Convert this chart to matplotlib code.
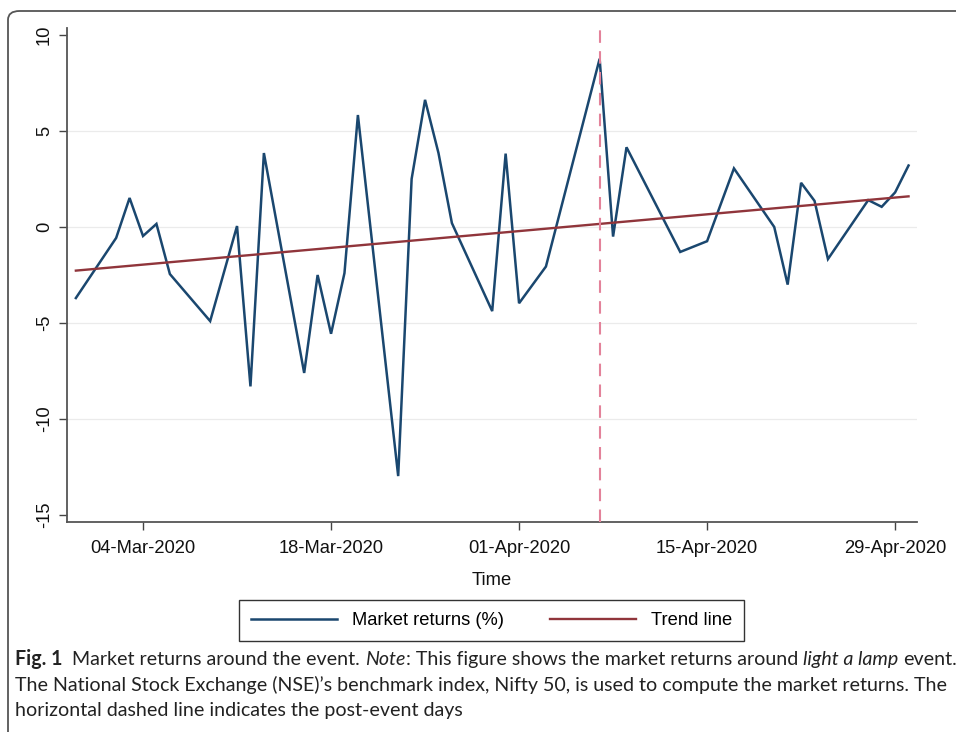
import matplotlib
matplotlib.use("Agg")
from matplotlib import pyplot as plt
from matplotlib import font_manager
from matplotlib.patches import FancyBboxPatch
from matplotlib.lines import Line2D
import matplotlib.dates as mdates
import numpy as np
import pandas as pd

# daily Nifty 50 returns (%)
dates = ["2020-02-28", "2020-03-02", "2020-03-03", "2020-03-04", "2020-03-05", "2020-03-06",
         "2020-03-09", "2020-03-11", "2020-03-12", "2020-03-13", "2020-03-16", "2020-03-17",
         "2020-03-18", "2020-03-19", "2020-03-20", "2020-03-23", "2020-03-24", "2020-03-25",
         "2020-03-26", "2020-03-27", "2020-03-30", "2020-03-31", "2020-04-01", "2020-04-03",
         "2020-04-07", "2020-04-08", "2020-04-09", "2020-04-13", "2020-04-15", "2020-04-17",
         "2020-04-20", "2020-04-21", "2020-04-22", "2020-04-23", "2020-04-24", "2020-04-27",
         "2020-04-28", "2020-04-29", "2020-04-30"]
returns = [-3.7, -0.57, 1.51, -0.47, 0.16, -2.45,
           -4.9, 0.05, -8.3, 3.85, -7.6, -2.5,
           -5.56, -2.4, 5.83, -12.97, 2.5, 6.62,
           3.85, 0.2, -4.38, 3.82, -3.97, -2.06,
           8.76, -0.5, 4.15, -1.3, -0.74, 3.05,
           0.0, -3.0, 2.3, 1.36, -1.67, 1.4,
           1.05, 1.8, 3.2]
event_date = "2020-04-07"
xtick_dates = ["2020-03-04", "2020-03-18", "2020-04-01", "2020-04-15", "2020-04-29"]
yticks = [-15, -10, -5, 0, 5, 10]

BLUE = "#1a476f"
RED = "#90353b"
PINK = "#e3829a"
FS = 13.2

installed = {f.name for f in font_manager.fontManager.ttflist}
capfont = "Liberation Sans Narrow" if "Liberation Sans Narrow" in installed else "Lato"
plt.rcParams["font.family"] = ["Liberation Sans", "DejaVu Sans"]

W, H = 956, 732
fig = plt.figure(figsize=(W / 100, H / 100), dpi=100)
ax = fig.add_axes([67 / W, 1 - 522 / H, (917 - 67) / W, (522 - 28) / H])

t = pd.to_datetime(dates)
ax.plot(t, returns, color=BLUE, lw=1.8, zorder=2, solid_joinstyle="miter")

# linear trend (OLS on date)
xn = mdates.date2num(t)
b, a = np.polyfit(xn, returns, 1)
ax.plot(t, a + b * xn, color=RED, lw=1.7, zorder=3)

ax.axvline(pd.Timestamp(event_date), color=PINK, lw=1.5, dashes=(6, 4), zorder=4)

x0 = pd.Timestamp("2020-03-04")
ax.set_xlim(x0 - pd.Timedelta(days=5.66), x0 + pd.Timedelta(days=57.63))
ax.set_ylim(-15.36, 10.36)

ax.set_yticks(yticks)
ax.set_yticklabels([str(v) for v in yticks], rotation=90, va="center")
ax.set_xticks(pd.to_datetime(xtick_dates))
ax.xaxis.set_major_formatter(mdates.DateFormatter("%d-%b-%Y"))
ax.tick_params(axis="both", direction="out", length=6, width=1, color="#444444",
               labelsize=FS, labelcolor="#111111")
ax.tick_params(axis="y", pad=4)
ax.tick_params(axis="x", pad=7)
ax.set_xlabel("Time", fontsize=FS, labelpad=10.5, color="#111111")

ax.grid(axis="y", color="#ebebeb", lw=0.9, zorder=0)
for tk in ax.yaxis.get_major_ticks():
    if tk.get_loc() in (10, -15):
        tk.gridline.set_visible(False)

for s in ("top", "right"):
    ax.spines[s].set_visible(False)
for s in ("left", "bottom"):
    ax.spines[s].set_color("#555555")
    ax.spines[s].set_linewidth(1.3)

handles = [Line2D([], [], color=BLUE, lw=1.8), Line2D([], [], color=RED, lw=1.7)]
leg = fig.legend(handles, ["Market returns (%)", "Trend line"], loc="center",
                 bbox_to_anchor=(491.5 / W, 1 - 620.5 / H), ncol=2, fontsize=FS,
                 frameon=True, fancybox=False, edgecolor="black", handlelength=4.7,
                 handletextpad=0.8, columnspacing=2.5, borderpad=0.65)
leg.get_frame().set_linewidth(1.0)

# page frame with rounded top-left corner
frame = FancyBboxPatch((8 / W, -0.1), 1.2, 1.1 - 11 / H,
                       boxstyle="round,pad=0,rounding_size=0.012",
                       transform=fig.transFigure, fill=False, ec="#555555", lw=1.3)
fig.patches.append(frame)

# caption
cap_lines = [
    [("Fig. 1", "b"), ("  Market returns around the event. ", ""), ("Note", "i"),
     (": This figure shows the market returns around ", ""), ("light a lamp", "i"), (" event.", "")],
    [("The National Stock Exchange (NSE)\u2019s benchmark index, Nifty 50, is used to compute the market returns. The", "")],
    [("horizontal dashed line indicates the post-event days", "")],
]
baselines = [665, 691, 716]
renderer = fig.canvas.get_renderer()


def draw_line(x, y, parts, size, keep=True):
    sp = fig.text(0, 0, "x x", fontsize=size, family=capfont)
    sp2 = fig.text(0, 0, "xx", fontsize=size, family=capfont)
    space = sp.get_window_extent(renderer).width - sp2.get_window_extent(renderer).width
    sp.remove()
    sp2.remove()
    made = []
    for s, st in parts:
        lead = len(s) - len(s.lstrip(" "))
        trail = len(s) - len(s.rstrip(" "))
        x += lead * space
        txt = fig.text(x / W, 1 - y / H, s.strip(" "), fontsize=size, family=capfont,
                       fontweight="bold" if st == "b" else "normal",
                       fontstyle="italic" if st == "i" else "normal",
                       va="baseline", ha="left", color="#222222")
        made.append(txt)
        x = txt.get_window_extent(renderer).x1 + trail * space
    if not keep:
        for m in made:
            m.remove()
    return x


size = 12.0
right = draw_line(15, baselines[0], cap_lines[0], size, keep=False)
size = size * (953 - 15) / (right - 15)
for yb, parts in zip(baselines, cap_lines):
    draw_line(15, yb, parts, size)

fig.savefig("out.png", dpi=100)
